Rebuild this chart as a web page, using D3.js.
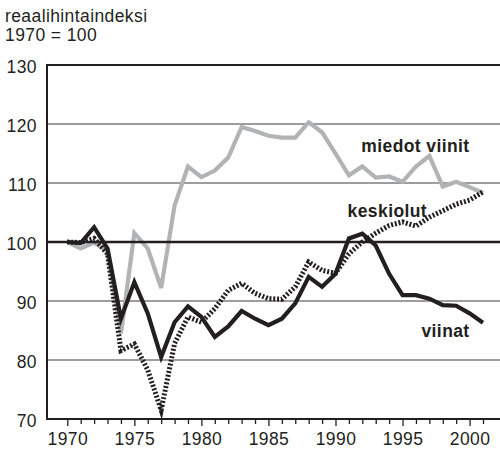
<!DOCTYPE html>
<html>
<head>
<meta charset="utf-8">
<script src="https://cdn.jsdelivr.net/npm/d3@7/dist/d3.min.js"></script>
<style>
  html, body { margin: 0; padding: 0; background: #fff; }
  svg { display: block; font-family: "Liberation Sans", Arial, Helvetica, sans-serif; }
</style>
</head>
<body>
<svg id="chart" width="500" height="454"></svg>
<script>
const years = d3.range(1970, 2002);
const yTicks = [70, 80, 90, 100, 110, 120, 130];
const xLabels = [1970, 1975, 1980, 1985, 1990, 1995, 2000];

// miedot viinit (grey)
const miedotViinit = [100, 98.9, 99.9, 98.5, 84.5, 101.5, 98.9, 92.2, 106.2, 112.8,
  111.0, 112.1, 114.3, 119.5, 118.8, 118.0, 117.7, 117.7, 120.3, 118.6,
  115.0, 111.3, 112.8, 110.9, 111.1, 110.2, 112.8, 114.6, 109.4, 110.2,
  109.3, 108.3];
// keskiolut (dotted)
const keskiolut = [100, 99.9, 100.6, 98.0, 81.6, 82.7, 78.3, 71.5, 82.8, 87.3,
  86.4, 88.7, 91.8, 93.0, 91.3, 90.4, 90.3, 92.4, 96.6, 95.2,
  94.7, 98.0, 100.0, 101.5, 102.8, 103.4, 102.7, 104.2, 105.3, 106.4,
  107.1, 108.5];
// viinat (black)
const viinat = [100, 99.8, 102.5, 98.9, 87.0, 93.2, 87.9, 80.5, 86.4, 89.1,
  87.3, 83.9, 85.7, 88.3, 87.0, 85.9, 87.0, 89.6, 94.1, 92.4,
  94.6, 100.6, 101.4, 99.4, 94.6, 91.0, 91.0, 90.4, 89.3, 89.2,
  87.9, 86.3];

const svg = d3.select('#chart');
const plotLeft = 47;
const plotRight = 501;
const plotTop = 65;
const plotBottom = 419;
const ink = '#231f20';

const x = d3.scaleLinear().domain([1970, 2001]).range([67.3, 483]);
const y = d3.scaleLinear().domain([70, 130]).range([plotBottom, plotTop]);

// title
const title = svg.append('text')
  .attr('fill', ink)
  .style('font-size', '17.5px')
  .style('letter-spacing', '0.4px');
title.append('tspan').attr('x', 5).attr('y', 21.7).text('reaalihintaindeksi');
title.append('tspan').attr('x', 5).attr('y', 40.7).text('1970 = 100');

// gridlines
svg.append('g')
  .selectAll('line')
  .data(yTicks.filter(d => d !== 70 && d !== 130 && d !== 100))
  .join('line')
  .attr('x1', plotLeft)
  .attr('x2', plotRight)
  .attr('y1', d => y(d))
  .attr('y2', d => y(d))
  .attr('stroke', '#7d7d7d')
  .attr('stroke-width', 1.5);

// frame (left, top, bottom)
svg.append('path')
  .attr('d', `M${plotRight},${plotTop}H${plotLeft}V${plotBottom}H${plotRight}`)
  .attr('fill', 'none')
  .attr('stroke', ink)
  .attr('stroke-width', 2);

// y labels
const yAxis = svg.append('g')
  .attr('transform', `translate(${plotLeft},0)`)
  .call(d3.axisLeft(y).tickValues(yTicks).tickSize(0).tickPadding(10));
yAxis.select('.domain').remove();
yAxis.selectAll('text')
  .attr('fill', ink)
  .attr('dy', '0.4em')
  .style('font-size', '17.5px')
  .style('letter-spacing', '0.4px')
  .style('font-family', '"Liberation Sans", Arial, sans-serif');

// x axis ticks
const xAxis = svg.append('g')
  .attr('transform', `translate(0,${plotBottom})`)
  .call(d3.axisBottom(x)
    .tickValues(years)
    .tickSize(5)
    .tickPadding(9)
    .tickFormat(d => (xLabels.includes(d) ? d : '')));
xAxis.select('.domain').remove();
xAxis.selectAll('.tick line')
  .attr('stroke', ink)
  .attr('stroke-width', 1.3)
  .attr('y2', d => (d % 5 === 0 ? 7 : 5));
xAxis.selectAll('text')
  .attr('fill', ink)
  .style('font-size', '17.5px')
  .style('letter-spacing', '0.4px')
  .style('font-family', '"Liberation Sans", Arial, sans-serif');

const line = d3.line()
  .x((d, i) => x(years[i]))
  .y(d => y(d));

svg.append('path')
  .datum(miedotViinit)
  .attr('d', line)
  .attr('fill', 'none')
  .attr('stroke', '#b2b3b5')
  .attr('stroke-width', 4.2)
  .attr('stroke-linejoin', 'miter');

// index 100 baseline on top of grey
svg.append('line')
  .attr('x1', plotLeft)
  .attr('x2', plotRight)
  .attr('y1', y(100))
  .attr('y2', y(100))
  .attr('stroke', ink)
  .attr('stroke-width', 2.6);

svg.append('path')
  .datum(keskiolut)
  .attr('d', line)
  .attr('fill', 'none')
  .attr('stroke', ink)
  .attr('stroke-width', 5)
  .attr('stroke-dasharray', '2,1.8');

svg.append('path')
  .datum(viinat)
  .attr('d', line)
  .attr('fill', 'none')
  .attr('stroke', ink)
  .attr('stroke-width', 4.2)
  .attr('stroke-linejoin', 'miter');

// series labels
const labels = [
  { text: 'miedot viinit', year: 2000, value: 115.25 },
  { text: 'keskiolut', year: 1996.83, value: 104.3 },
  { text: 'viinat', year: 2000, value: 83.95 }
];
svg.append('g')
  .selectAll('text')
  .data(labels)
  .join('text')
  .attr('x', d => x(d.year))
  .attr('y', d => y(d.value))
  .attr('text-anchor', 'end')
  .attr('fill', ink)
  .style('font-size', '17.5px')
  .style('font-weight', 'bold')
  .style('letter-spacing', '0.4px')
  .text(d => d.text);
</script>
</body>
</html>
